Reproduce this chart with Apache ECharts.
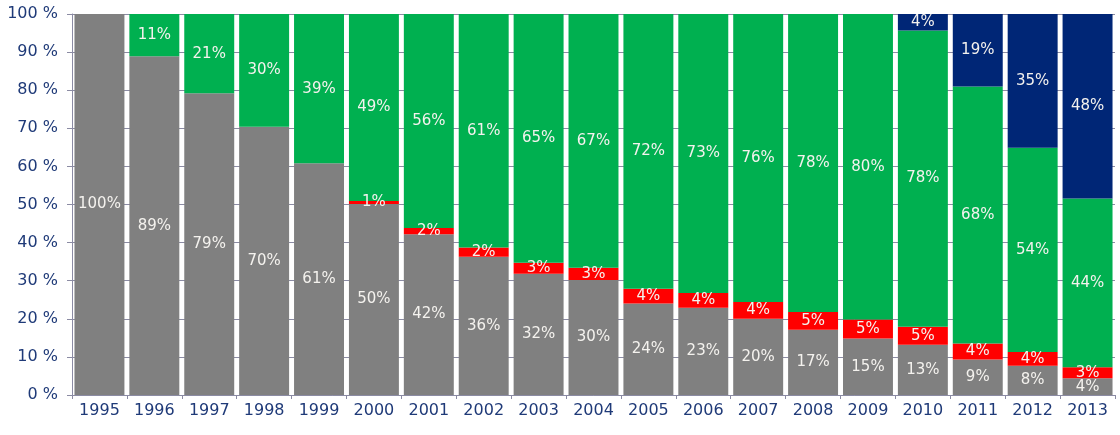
<!DOCTYPE html>
<html>
<head>
<meta charset="utf-8">
<script src="https://cdn.jsdelivr.net/npm/echarts@6/dist/echarts.min.js"></script>
<style>
html,body{margin:0;padding:0;background:#fff;}
#chart{width:1120px;height:435px;}
</style>
</head>
<body>
<div id="chart"></div>
<script>
var years = ['1995','1996','1997','1998','1999','2000','2001','2002','2003','2004','2005','2006','2007','2008','2009','2010','2011','2012','2013'];
var grayVals  = [100, 88.9, 79.2, 70.4, 60.8, 50.1, 42.2, 36.3, 31.8, 30.2, 24.0, 22.9, 20.0, 17.1, 14.8, 13.2, 9.3, 7.7, 4.4];
var redVals   = [0, 0, 0, 0, 0, 0.8, 1.6, 2.4, 2.9, 3.2, 3.9, 3.9, 4.4, 4.7, 5.0, 4.7, 4.2, 3.6, 2.9];
var greenVals = [0, 11.1, 20.8, 29.6, 39.2, 49.1, 56.2, 61.3, 65.3, 66.6, 72.1, 73.2, 75.6, 78.2, 80.2, 77.8, 67.5, 53.6, 44.3];
var navyVals  = [0, 0, 0, 0, 0, 0, 0, 0, 0, 0, 0, 0, 0, 0, 0, 4.3, 19.0, 35.1, 48.4];
var yTicks = [0, 10, 20, 30, 40, 50, 60, 70, 80, 90, 100];

var FONT = 'DejaVu Sans';
function mk(name, data, color) {
  return {
    name: name, type: 'bar', stack: 'total', data: data,
    barCategoryGap: '9%',
    itemStyle: { color: color },
    label: {
      show: true, position: 'inside', color: '#F4F2EE',
      fontFamily: FONT, fontSize: 15,
      formatter: function (p) { return p.value > 0 ? Math.round(p.value) + '%' : ''; }
    }
  };
}
var chart = echarts.init(document.getElementById('chart'), null, { renderer: 'canvas' });
chart.setOption({
  animation: false,
  backgroundColor: '#ffffff',
  grid: { left: 72, right: 5, top: 14, bottom: 40, containLabel: false },
  xAxis: {
    type: 'category', data: years,
    axisLine: { lineStyle: { color: '#8B8BA3', width: 1 } },
    axisTick: { show: true, alignWithLabel: false, length: 4, lineStyle: { color: '#8B8BA3' } },
    axisLabel: { color: '#1F3A78', fontFamily: FONT, fontSize: 16, margin: 8 }
  },
  yAxis: {
    type: 'value', min: 0, max: 100, interval: 10,
    axisLine: { show: true, lineStyle: { color: '#8B8BA3', width: 1 } },
    axisTick: { show: true, length: 5, lineStyle: { color: '#8B8BA3' } },
    splitLine: { show: true, lineStyle: { color: '#8B8BA3', width: 1 } },
    axisLabel: {
      color: '#1F3A78', fontFamily: FONT, fontSize: 16, margin: 14,
      formatter: function (v) { return yTicks.indexOf(v) >= 0 ? v + ' %' : ''; }
    }
  },
  series: [
    mk('gray', grayVals, '#808080'),
    mk('red', redVals, '#FF0000'),
    mk('green', greenVals, '#00B050'),
    mk('navy', navyVals, '#002676')
  ]
});
</script>
</body>
</html>
